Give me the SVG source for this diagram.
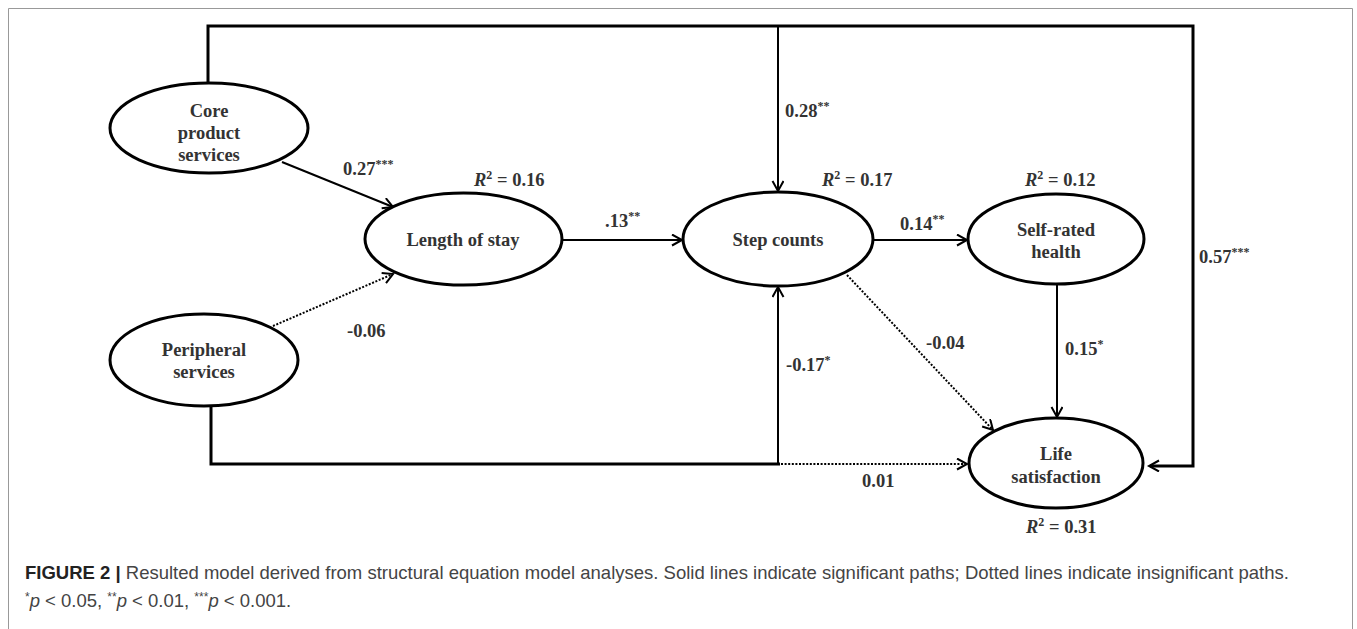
<svg xmlns="http://www.w3.org/2000/svg" width="1357" height="629" viewBox="0 0 1357 629">
<defs>
<marker id="arr" markerUnits="userSpaceOnUse" markerWidth="20" markerHeight="20" refX="11" refY="6" orient="auto">
<path d="M1,0.5 L11,6 L1,11.5" fill="none" stroke="#000" stroke-width="2"/>
</marker>
<style>
.node{fill:#fff;stroke:#000;stroke-width:3}
.t{font-family:"Liberation Serif","Times New Roman",serif;font-weight:bold;font-size:18.5px;fill:#333;text-anchor:middle}
.lbl{font-family:"Liberation Serif","Times New Roman",serif;font-weight:bold;font-size:18.5px;fill:#333}
.sup{font-size:12px}
.thick{fill:none;stroke:#000;stroke-width:3}
.sol{fill:none;stroke:#000;stroke-width:2}
.dot{fill:none;stroke:#000;stroke-width:2;stroke-dasharray:2 1.6}
.cap{font-family:"Liberation Sans",Arial,sans-serif;font-size:18.5px;fill:#444}
.csup{font-size:12px}
</style>
</defs>
<rect width="1357" height="629" fill="#fff"/>
<path d="M8.5,640 V8.5 H1352.5 V640" fill="none" stroke="#999" stroke-width="1"/>

<g id="connectors">
<path class="thick" d="M208,83 V26 H1193 V466 H1150"/>
<path class="sol" d="M778,26 V191" marker-end="url(#arr)"/>
<path class="sol" d="M1193,466 H1149" marker-end="url(#arr)"/>
<path class="thick" d="M211,406 V464 H780"/>
<path class="sol" d="M778,464 V287" marker-end="url(#arr)"/>
<path class="dot" d="M781,464 H967" marker-end="url(#arr)"/>
<path class="sol" d="M282,162 L393,207" marker-end="url(#arr)"/>
<path class="dot" d="M273,326 L393,274" marker-end="url(#arr)"/>
<path class="sol" d="M563,240 H682" marker-end="url(#arr)"/>
<path class="sol" d="M873,240 H967" marker-end="url(#arr)"/>
<path class="sol" d="M1057,284 V417" marker-end="url(#arr)"/>
<path class="dot" d="M847,275 L993,430" marker-end="url(#arr)"/>
</g>

<g id="core">
<ellipse class="node" cx="209" cy="128" rx="99" ry="45"/>
<text class="t" x="209" y="117">Core</text>
<text class="t" x="209" y="139">product</text>
<text class="t" x="209" y="161">services</text>
</g>
<g id="peripheral">
<ellipse class="node" cx="204" cy="360" rx="94" ry="46"/>
<text class="t" x="204" y="356">Peripheral</text>
<text class="t" x="204" y="378">services</text>
</g>
<g id="length">
<ellipse class="node" cx="463.5" cy="239" rx="98.5" ry="46"/>
<text class="t" x="463" y="246">Length of stay</text>
</g>
<g id="step">
<ellipse class="node" cx="778" cy="239" rx="95" ry="47"/>
<text class="t" x="778" y="246">Step counts</text>
</g>
<g id="selfrated">
<ellipse class="node" cx="1056" cy="239" rx="88" ry="45"/>
<text class="t" x="1056" y="236">Self-rated</text>
<text class="t" x="1056" y="258">health</text>
</g>
<g id="life">
<ellipse class="node" cx="1056" cy="463" rx="87" ry="45"/>
<text class="t" x="1056" y="460">Life</text>
<text class="t" x="1056" y="483">satisfaction</text>
</g>

<g id="labels">
<text class="lbl" x="343" y="175">0.27<tspan class="sup" dy="-7">***</tspan></text>
<text class="lbl" x="474" y="186"><tspan font-style="italic">R</tspan><tspan class="sup" dy="-7">2</tspan><tspan dy="7"> = 0.16</tspan></text>
<text class="lbl" x="605" y="227">.13<tspan class="sup" dy="-7">**</tspan></text>
<text class="lbl" x="785" y="117">0.28<tspan class="sup" dy="-7">**</tspan></text>
<text class="lbl" x="822" y="186"><tspan font-style="italic">R</tspan><tspan class="sup" dy="-7">2</tspan><tspan dy="7"> = 0.17</tspan></text>
<text class="lbl" x="900" y="230">0.14<tspan class="sup" dy="-7">**</tspan></text>
<text class="lbl" x="1025" y="186"><tspan font-style="italic">R</tspan><tspan class="sup" dy="-7">2</tspan><tspan dy="7"> = 0.12</tspan></text>
<text class="lbl" x="1199" y="263">0.57<tspan class="sup" dy="-7">***</tspan></text>
<text class="lbl" x="347" y="337">-0.06</text>
<text class="lbl" x="786" y="371">-0.17<tspan class="sup" dy="-7">*</tspan></text>
<text class="lbl" x="926" y="349">-0.04</text>
<text class="lbl" x="1065" y="355">0.15<tspan class="sup" dy="-7">*</tspan></text>
<text class="lbl" x="862" y="487">0.01</text>
<text class="lbl" x="1026" y="533"><tspan font-style="italic">R</tspan><tspan class="sup" dy="-7">2</tspan><tspan dy="7"> = 0.31</tspan></text>
</g>

<g id="caption">
<text class="cap" x="25" y="579"><tspan font-weight="bold" fill="#222">FIGURE 2 |</tspan> Resulted model derived from structural equation model analyses. Solid lines indicate significant paths; Dotted lines indicate insignificant paths.</text>
<text class="cap" x="25" y="607"><tspan class="csup" dy="-6">*</tspan><tspan font-style="italic" dy="6">p</tspan> &lt; 0.05, <tspan class="csup" dy="-6">**</tspan><tspan font-style="italic" dy="6">p</tspan> &lt; 0.01, <tspan class="csup" dy="-6">***</tspan><tspan font-style="italic" dy="6">p</tspan> &lt; 0.001.</text>
</g>
</svg>
